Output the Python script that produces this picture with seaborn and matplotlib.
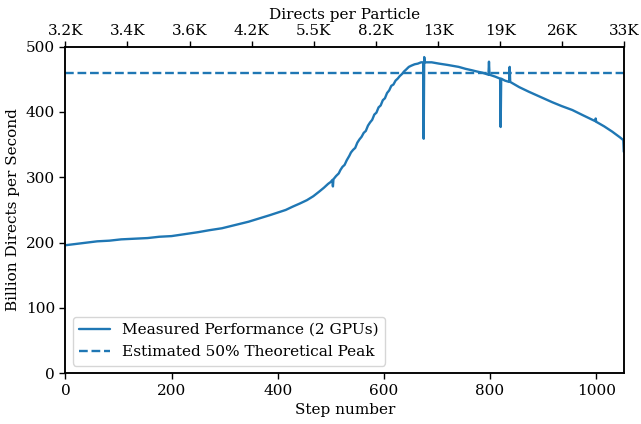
import numpy as np
import pandas as pd
import matplotlib
matplotlib.use("Agg")
import matplotlib.pyplot as plt
import seaborn as sns

# ---- data ----
steps = [0, 20, 40, 60, 83, 105, 130, 155, 177, 200, 225, 250, 271, 295,
         320, 345, 365, 385, 400, 415, 428, 442, 455, 467, 478, 487, 495,
         500, 503, 504, 505, 510, 515, 518, 522, 526, 530, 535, 538, 542,
         546, 550, 554, 558, 562, 566, 570, 574, 578, 582, 586, 590, 594,
         598, 602, 606, 610, 614, 618, 622, 626, 630, 634, 638, 642, 647,
         652, 658, 664, 670, 674, 675, 676, 677, 690, 704, 720, 741, 754,
         765, 775, 786, 797, 798, 799, 810, 819, 820, 821, 828, 836, 837,
         838, 855, 873, 895, 917, 935, 955, 975, 998, 999, 1000, 1015,
         1030, 1045, 1051, 1052]
perf = [196, 198, 200, 202, 203, 205, 206, 207, 209, 210, 213, 216, 219, 222,
        227, 232, 237, 242, 246, 250, 255, 260, 265, 271, 278, 284, 290,
        293, 296, 286, 297, 302, 306, 311, 316, 319, 326, 333, 338, 342,
        345, 353, 358, 362, 368, 371, 379, 384, 388, 396, 399, 407, 410,
        418, 421, 429, 433, 440, 442, 448, 451, 455, 458, 462, 465, 469,
        471, 473, 474, 476, 476, 359, 484, 476, 476, 474, 472, 469, 466,
        464, 462, 460, 457, 477, 457, 454, 451, 377, 451, 448, 446, 469,
        446, 438, 431, 423, 415, 409, 403, 395, 386, 390, 385, 378,
        370, 361, 357, 339]
peak_value = 460
top_labels = ['3.2K', '3.4K', '3.6K', '4.2K', '5.5K', '8.2K', '13K', '19K', '26K', '33K']

measured_label = 'Measured Performance (2 GPUs)'
peak_label = 'Estimated 50% Theoretical Peak'

df = pd.DataFrame({'step': steps, 'perf': perf})

sns.set_theme(style='ticks')
plt.rcParams['font.family'] = ['DejaVu Serif']
plt.rcParams['axes.edgecolor'] = 'black'
plt.rcParams['xtick.color'] = 'black'
plt.rcParams['ytick.color'] = 'black'
plt.rcParams['text.color'] = 'black'
plt.rcParams['axes.labelcolor'] = 'black'

fs = 11
fig = plt.figure(figsize=(6.41, 4.24), dpi=100)
ax = fig.add_axes([0.102, 0.1196, 0.872, 0.7704])

blue = '#1f77b4'
sns.lineplot(data=df, x='step', y='perf', ax=ax, color=blue, lw=1.7,
             estimator=None, sort=False, label=measured_label)
ax.axhline(peak_value, color=blue, lw=1.7, ls='--', label=peak_label)

xmax = 1053
ax.set_xlim(0, xmax)
ax.set_ylim(0, 500)
ax.set_xticks([0, 200, 400, 600, 800, 1000])
ax.set_yticks([0, 100, 200, 300, 400, 500])
ax.set_xlabel('Step number', fontsize=fs)
ax.set_ylabel('Billion Directs per Second', fontsize=fs)
ax.tick_params(labelsize=fs, width=1.0, length=4, direction='out')
for s in ax.spines.values():
    s.set_linewidth(1.1)
    s.set_visible(True)

ax2 = ax.twiny()
ax2.set_xlim(0, xmax)
ax2.set_xticks(np.linspace(0, xmax, len(top_labels)))
ax2.set_xticklabels(top_labels)
ax2.set_xlabel('Directs per Particle', fontsize=fs)
ax2.tick_params(labelsize=fs, width=1.0, length=4, direction='out', pad=2)
for s in ax2.spines.values():
    s.set_linewidth(1.1)
    s.set_visible(True)

leg = ax.legend(loc='lower left', fontsize=11.1, frameon=True, fancybox=True,
                edgecolor='#cccccc', borderaxespad=0.5, labelspacing=0.55)

fig.savefig('out.png', dpi=100)
